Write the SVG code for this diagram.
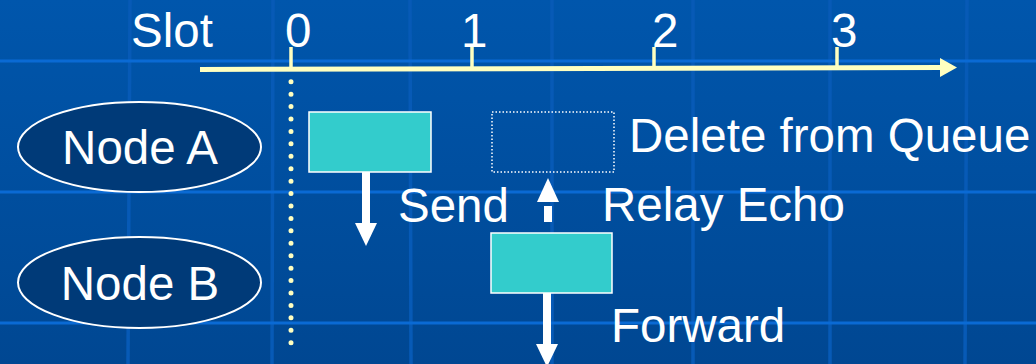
<svg xmlns="http://www.w3.org/2000/svg" width="1036" height="364" viewBox="0 0 1036 364">
  <defs>
    <linearGradient id="bg" x1="0" y1="0" x2="0" y2="1">
      <stop offset="0" stop-color="#0056AC"/>
      <stop offset="1" stop-color="#004792"/>
    </linearGradient>
    <style>
      .hgrid { stroke: #0A6AD4; stroke-width: 3; fill: none; }
      .vgrid { stroke: #075AB6; stroke-width: 3.5; fill: none; }
      .lbl { font-family: "Liberation Sans", Arial, sans-serif; font-size: 47.5px; fill: #FFFFFF; }
      .node { fill: #003A78; stroke: #FFFFFF; stroke-width: 2; }
      .pkt { fill: #33CCCC; stroke: #FFFFFF; stroke-width: 1.5; }
      .axis { stroke: #FFFFC0; fill: none; }
      .arrow { fill: #FFFFFF; }
    </style>
  </defs>
  <rect x="0" y="0" width="1036" height="364" fill="url(#bg)"/>
  <g id="grid">
    <line class="vgrid" x1="130" y1="0" x2="128" y2="364"/>
    <line class="vgrid" x1="273" y1="0" x2="272" y2="364"/>
    <line class="vgrid" x1="410" y1="0" x2="411" y2="364"/>
    <line class="vgrid" x1="552" y1="0" x2="552" y2="364"/>
    <line class="vgrid" x1="693" y1="0" x2="693" y2="364"/>
    <line class="vgrid" x1="830" y1="0" x2="830" y2="364"/>
    <line class="vgrid" x1="967" y1="0" x2="965" y2="364"/>
    <line class="hgrid" x1="0" y1="61" x2="1036" y2="61"/>
    <line class="hgrid" x1="0" y1="192" x2="1036" y2="192"/>
    <line class="hgrid" x1="0" y1="323" x2="1036" y2="323"/>
  </g>
  <g id="axis">
    <line class="axis" x1="200" y1="69.5" x2="942" y2="67.5" stroke-width="5"/>
    <polygon points="940,58 957,67.5 940,77" fill="#FFFFC0"/>
    <line class="axis" x1="291" y1="47" x2="291" y2="69" stroke-width="3.5"/>
    <line class="axis" x1="472" y1="47" x2="472" y2="69" stroke-width="3.5"/>
    <line class="axis" x1="654" y1="47" x2="654" y2="68" stroke-width="3.5"/>
    <line class="axis" x1="837" y1="47" x2="837" y2="68" stroke-width="3.5"/>
    <text class="lbl" x="131" y="47">Slot</text>
    <text class="lbl" x="285" y="47">0</text>
    <text class="lbl" x="461" y="47">1</text>
    <text class="lbl" x="652" y="47">2</text>
    <text class="lbl" x="831" y="47">3</text>
    <line x1="291" y1="81.7" x2="291" y2="343" stroke="#FFFFC0" stroke-width="5" stroke-linecap="round" stroke-dasharray="0 12.43"/>
  </g>
  <g id="nodeA">
    <ellipse class="node" cx="139.5" cy="147" rx="121.5" ry="45"/>
    <text class="lbl" x="140" y="164" text-anchor="middle">Node A</text>
  </g>
  <g id="nodeB">
    <ellipse class="node" cx="139.5" cy="282.5" rx="121.5" ry="45.5"/>
    <text class="lbl" x="140" y="300" text-anchor="middle">Node B</text>
  </g>
  <g id="packetA">
    <rect class="pkt" x="309" y="112" width="122" height="60"/>
  </g>
  <g id="deleted">
    <rect x="492" y="112" width="122" height="60" fill="none" stroke="#FFFFFF" stroke-width="1.5" stroke-dasharray="1.5 2"/>
    <text class="lbl" x="629" y="152">Delete from Queue</text>
  </g>
  <g id="packetB">
    <rect class="pkt" x="491" y="233" width="121" height="60"/>
  </g>
  <g id="connectors">
    <g id="send">
      <rect class="arrow" x="362" y="172" width="8" height="52"/>
      <polygon class="arrow" points="355,223 377,223 366,246"/>
      <text class="lbl" x="398" y="222">Send</text>
    </g>
    <g id="relay">
      <rect class="arrow" x="544" y="206" width="8" height="16"/>
      <polygon class="arrow" points="537,202 559,202 548,178"/>
      <text class="lbl" x="602" y="221">Relay Echo</text>
    </g>
    <g id="forward">
      <rect class="arrow" x="543" y="293" width="8" height="52"/>
      <polygon class="arrow" points="536,344 558,344 547,367"/>
      <text class="lbl" x="611" y="342">Forward</text>
    </g>
  </g>
</svg>
